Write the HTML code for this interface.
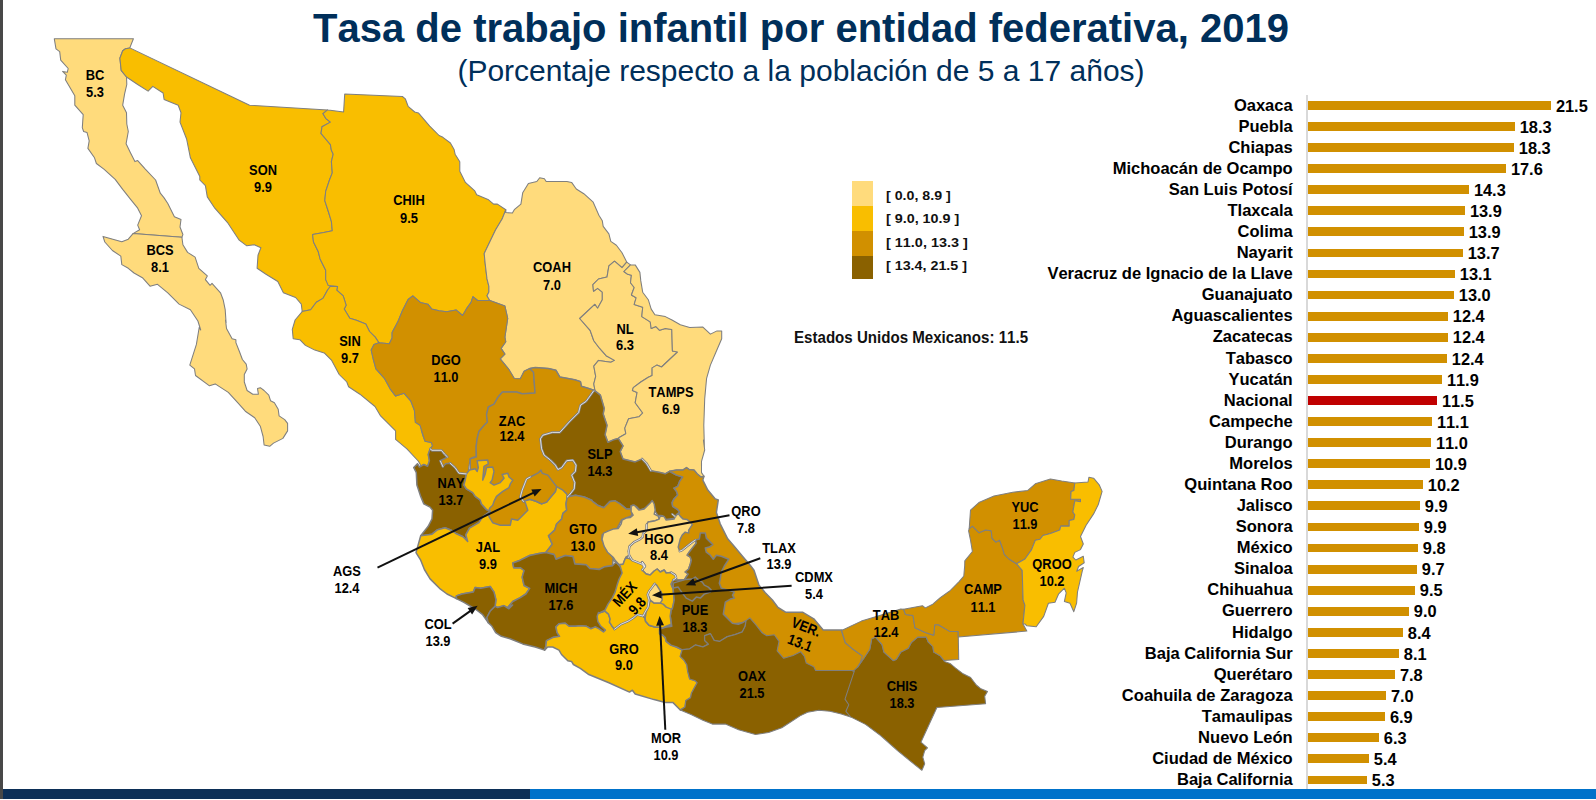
<!DOCTYPE html>
<html><head><meta charset="utf-8"><title>Tasa de trabajo infantil</title>
<style>
html,body{margin:0;padding:0;background:#fff;}
body{width:1596px;height:800px;position:relative;overflow:hidden;font-family:"Liberation Sans",sans-serif;font-kerning:none;}
.abs{position:absolute;}
#title{position:absolute;left:0;top:5px;width:1596px;text-align:center;font-weight:bold;font-size:40px;color:#002f5a;white-space:nowrap;line-height:46px;letter-spacing:0px;}
#title span{display:inline-block;position:relative;left:3px;}
#sub{position:absolute;left:0;top:54.5px;width:1596px;text-align:center;font-size:30px;color:#002f5a;white-space:nowrap;line-height:32px;}
#sub span{display:inline-block;position:relative;left:3px;}
.bl{position:absolute;right:303.3px;height:20px;line-height:20px;font-weight:bold;font-size:16.55px;color:#000;white-space:nowrap;text-align:right;}
.bb{position:absolute;left:1307.8px;height:8.8px;}
.bv{position:absolute;height:20px;line-height:20px;font-weight:bold;font-size:16.4px;color:#000;white-space:nowrap;}
#axis{position:absolute;left:1306.4px;top:95px;width:1.2px;height:695px;background:#d9d9d9;}
#leftbar{position:absolute;left:0;top:0;width:3px;height:799px;background:#484848;}
#foot1{position:absolute;left:3px;top:789px;width:527px;height:10px;background:#0c2f57;}
#foot2{position:absolute;left:530px;top:789px;width:1066px;height:10px;background:#0072ca;}
.lg{position:absolute;left:852px;width:21px;}
.lt{position:absolute;left:886px;font-weight:bold;font-size:13.3px;line-height:16px;height:16px;white-space:nowrap;transform-origin:0 50%;color:#111;}
#eum{position:absolute;left:793.5px;top:328.6px;font-weight:bold;font-size:15.6px;line-height:18px;white-space:nowrap;transform-origin:0 50%;color:#111;transform:scaleX(0.968);}
.ml{position:absolute;font-weight:bold;font-size:14.7px;line-height:16px;height:16px;white-space:nowrap;text-align:center;color:#000;transform:translate(-50%,0) scaleX(0.875);}
.mr{position:absolute;font-weight:bold;font-size:14.7px;line-height:16.5px;white-space:nowrap;text-align:center;color:#000;font-style:normal;}
svg{position:absolute;left:0;top:0;}
</style></head><body>
<div id="title"><span>Tasa de trabajo infantil por entidad federativa, 2019</span></div>
<div id="sub"><span>(Porcentaje respecto a la población de 5 a 17 años)</span></div>
<svg width="1596" height="800" viewBox="0 0 1596 800">
<g stroke="#7f7f7f" stroke-linejoin="round" stroke-linecap="round">
<path d="M54.3,38.8 56.0,48.8 59.7,51.6 60.7,60.1 68.2,68.5 67.3,72.3 62.6,71.4 66.3,75.1 65.4,79.8 68.2,84.5 74.8,95.8 74.8,105.2 83.2,114.6 82.3,127.7 83.6,131.5 87.0,132.4 89.2,140.9 87.9,148.4 94.5,157.8 96.4,163.5 103.9,169.1 115.2,179.4 122.7,189.4 130.2,198.8 137.7,208.2 141.5,215.7 137.7,225.1 139.6,229.8 133.0,233.6 181.9,237.3 182.9,234.5 180.0,227.0 181.0,219.5 174.4,216.7 167.8,203.5 164.1,197.9 160.3,193.2 155.6,180.0 145.3,169.1 137.7,160.6 134.9,161.6 130.2,152.2 126.1,143.7 128.3,131.5 126.8,124.0 126.5,112.7 122.7,105.2 124.6,93.9 126.8,84.5 126.5,77.0 121.2,70.4 119.9,58.2 122.7,50.7 125.5,48.8 129.8,47.9 133.4,38.8Z" fill="#ffdb7c" stroke-width="1.05"/>
<path d="M133.0,233.6 128.3,239.2 121.8,241.7 103.0,236.4 104.8,242.0 112.4,250.5 120.8,256.1 121.8,264.6 128.3,268.3 134.0,273.0 142.4,277.7 150.0,286.2 157.5,284.3 167.8,292.8 179.1,304.1 190.4,309.7 197.9,321.0 200.7,330.0 199.2,327.5 196.4,344.4 189.8,365.1 194.5,368.9 195.5,375.5 209.5,385.8 215.2,383.9 228.3,392.4 237.7,402.7 245.3,411.2 254.7,417.7 260.3,426.2 263.1,436.5 264.1,445.0 269.7,446.3 273.5,443.1 282.9,438.4 287.6,430.9 287.6,423.4 284.7,419.6 279.1,415.9 278.2,409.3 274.4,402.7 270.6,400.8 268.8,395.2 264.1,390.5 260.3,387.7 257.5,388.6 258.4,394.2 252.8,394.2 247.1,390.5 244.3,382.0 244.3,374.5 247.1,368.9 246.2,364.2 242.4,359.5 239.6,352.0 235.9,342.6 235.9,339.7 232.1,338.8 226.5,328.5 225.5,320.0 226.1,322.9 225.2,309.7 223.3,300.3 220.5,292.8 212.0,283.4 210.1,285.3 205.4,279.6 207.3,275.9 198.8,268.3 195.1,257.1 187.6,252.4 182.9,244.8 181.9,237.3Z" fill="#ffdb7c" stroke-width="1.05"/>
<path d="M129.8,47.9 249.6,105.2 327.6,109.9 322.9,113.6 325.7,118.3 330.4,122.1 322.0,126.8 321.0,133.4 325.7,139.0 330.4,144.7 331.4,150.3 333.2,154.1 331.4,161.6 332.3,172.9 329.5,180.0 325.7,191.3 324.8,200.7 328.5,212.0 331.4,221.4 332.3,230.8 323.8,232.6 312.6,234.5 313.5,242.0 318.2,251.4 320.1,258.9 325.7,270.2 325.7,279.6 330.4,286.2 327.6,290.0 322.9,298.4 316.3,302.2 310.7,309.7 302.2,311.6 301.3,304.1 295.6,297.5 283.4,292.8 277.8,281.5 265.6,274.0 257.1,268.3 258.0,255.2 260.9,247.7 254.3,244.8 246.8,245.8 239.2,240.2 228.0,223.2 214.8,208.2 207.3,196.9 205.4,185.6 199.8,180.0 199.8,176.6 190.4,157.8 186.6,139.0 180.0,122.1 181.0,112.7 178.2,105.2 164.1,99.5 163.1,93.0 152.8,86.4 148.1,91.1 137.7,84.5 126.5,77.0 121.2,70.4 119.9,58.2 122.7,50.7 125.5,48.8 129.8,47.9Z" fill="#f9be00" stroke-width="1.05"/>
<path d="M328.2,110.1 343.6,112.0 344.7,94.1 402.4,96.5 405.3,98.8 408.1,106.3 414.7,112.0 418.4,112.9 429.7,126.1 439.1,135.5 442.9,137.3 450.4,143.0 454.1,149.5 455.1,154.2 459.8,161.8 459.8,171.2 465.4,182.4 474.8,190.9 476.7,194.7 488.0,199.4 493.6,204.1 497.4,204.1 505.8,209.7 502.1,219.1 495.5,230.0 484.2,253.5 485.2,263.8 487.0,278.9 488.9,286.4 488.9,292.0 487.0,295.8 489.8,300.5 477.6,300.5 472.9,296.7 471.1,302.4 466.4,308.9 462.6,315.5 456.0,309.9 446.6,311.8 439.1,310.8 431.6,308.9 427.8,304.2 420.3,302.4 412.8,295.8 408.1,299.5 402.4,310.8 397.7,322.1 392.1,332.4 392.1,338.1 389.3,343.7 378.9,342.8 375.2,337.1 369.5,331.5 365.8,324.0 356.4,320.2 349.8,318.3 344.2,308.9 346.1,305.2 343.2,295.8 336.7,290.2 337.6,286.4 328.2,285.5 325.7,279.6 325.7,270.2 320.1,258.9 318.2,251.4 313.5,242.0 312.6,234.5 323.8,232.6 332.3,230.8 331.4,221.4 328.5,212.0 324.8,200.7 325.7,191.3 329.5,180.0 332.3,172.9 331.4,161.6 333.2,154.1 331.4,150.3 330.4,144.7 325.7,139.0 321.0,133.4 322.0,126.8 330.4,122.1 325.7,118.3 322.9,113.6 327.6,109.9Z" fill="#f9be00" stroke-width="1.05"/>
<path d="M302.2,311.6 310.7,309.7 316.3,302.2 322.9,298.4 327.6,290.0 330.4,286.2 337.6,286.4 336.7,290.2 343.2,295.8 346.1,305.2 344.2,308.9 349.8,318.3 356.4,320.2 365.8,324.0 369.5,331.5 375.2,337.1 378.9,342.8 374.0,344.4 371.2,350.1 373.1,358.5 375.9,368.9 384.4,378.3 390.0,388.6 395.6,396.1 404.1,393.3 410.7,400.8 414.4,410.2 415.4,422.4 420.1,425.3 423.8,437.5 421.3,430.0 423.2,436.3 425.1,441.3 431.3,442.5 432.6,445.7 430.1,448.8 428.2,454.4 429.4,460.7 427.6,466.3 423.8,464.5 419.4,467.0 417.5,463.8 413.8,467.6 422.0,467.6 418.2,461.0 406.9,448.8 395.6,439.4 395.6,430.9 380.6,415.9 375.0,406.5 359.9,394.2 348.6,386.7 346.8,382.0 339.2,374.5 331.7,360.4 324.2,352.9 314.8,350.1 305.4,345.4 299.8,339.7 293.2,338.8 292.3,329.4 295.1,320.0Z" fill="#f9be00" stroke-width="1.05"/>
<path d="M505.8,212.5 512.4,213.1 514.3,209.7 520.9,204.1 522.7,192.8 528.4,183.4 536.8,181.5 539.7,177.7 544.4,178.7 546.2,181.5 566.9,181.5 571.6,182.4 576.3,189.0 583.8,193.7 593.2,202.2 598.9,215.3 602.3,220.8 603.2,226.4 608.9,233.9 610.8,241.4 616.4,245.2 622.0,252.7 626.7,262.1 622.0,267.7 614.5,261.2 608.9,265.9 607.0,277.1 598.5,279.0 592.9,284.7 593.5,291.2 597.6,288.4 602.3,292.2 602.3,299.7 597.6,308.2 594.8,304.4 579.7,318.5 590.1,330.3 593.8,340.7 599.5,348.2 606.1,355.7 614.5,360.4 610.8,362.3 598.5,360.4 593.8,366.1 595.7,376.4 593.8,383.9 594.8,389.5 593.6,390.1 588.0,388.2 581.4,386.3 580.5,381.6 574.8,379.7 565.4,377.9 559.8,376.9 556.0,370.3 548.5,368.5 535.3,367.5 529.7,368.5 524.1,371.3 520.3,378.8 514.3,378.5 508.6,369.1 500.2,358.8 504.9,354.1 501.1,348.4 505.8,341.8 504.9,337.1 507.7,318.3 504.9,306.1 489.8,300.5 487.0,295.8 488.9,292.0 488.9,286.4 487.0,278.9 485.2,263.8 484.2,253.5 495.5,230.0 502.1,219.1 505.8,209.7Z" fill="#ffdb7c" stroke-width="1.05"/>
<path d="M378.9,342.8 389.3,343.7 392.1,338.1 392.1,332.4 397.7,322.1 402.4,310.8 408.1,299.5 412.8,295.8 420.3,302.4 427.8,304.2 431.6,308.9 439.1,310.8 446.6,311.8 456.0,309.9 462.6,315.5 466.4,308.9 471.1,302.4 472.9,296.7 477.6,300.5 489.8,300.5 504.9,306.1 507.7,318.3 504.9,337.1 505.8,341.8 501.1,348.4 504.9,354.1 500.2,358.8 508.6,369.1 514.3,378.5 520.3,378.8 524.1,371.3 529.7,368.5 533.5,372.2 535.0,392.9 522.2,393.8 516.5,392.0 502.4,392.0 497.7,397.6 494.0,404.2 488.3,407.0 486.5,414.5 487.4,422.0 484.6,424.8 478.9,431.4 477.1,438.9 476.1,446.5 476.1,457.7 476.4,456.9 473.3,456.9 470.2,458.8 468.9,466.3 468.3,471.4 466.4,473.9 458.9,473.2 455.1,467.6 450.1,463.2 445.7,463.8 442.6,467.0 440.1,460.7 443.9,458.8 447.6,456.9 444.5,454.4 441.4,450.7 432.0,450.7 430.1,448.8 432.6,445.7 431.3,442.5 425.1,441.3 423.2,436.3 421.3,430.0 423.8,437.5 420.1,425.3 415.4,422.4 414.4,410.2 410.7,400.8 404.1,393.3 395.6,396.1 390.0,388.6 384.4,378.3 375.9,368.9 373.1,358.5 371.2,350.1 374.0,344.4 379.7,342.6Z" fill="#d19000" stroke-width="1.05"/>
<path d="M594.8,389.5 593.8,383.9 595.7,376.4 593.8,366.1 598.5,360.4 610.8,362.3 614.5,360.4 606.1,355.7 599.5,348.2 593.8,340.7 590.1,330.3 579.7,318.5 594.8,304.4 597.6,308.2 602.3,299.7 602.3,292.2 597.6,288.4 593.5,291.2 592.9,284.7 598.5,279.0 607.0,277.1 608.9,265.9 614.5,261.2 622.0,267.7 626.7,262.1 630.5,264.9 623.9,271.5 627.7,274.3 631.4,275.3 630.5,282.8 634.2,287.5 631.4,295.0 636.1,297.8 634.2,304.4 642.7,307.2 641.8,316.6 650.2,321.9 651.2,328.5 655.9,326.6 659.6,330.3 665.3,328.5 671.8,329.4 672.4,351.0 677.5,352.0 661.5,367.0 656.8,365.1 652.1,367.9 652.1,375.5 648.3,377.3 640.8,382.0 633.3,387.7 632.4,390.5 637.1,392.4 635.2,402.7 642.7,413.0 638.9,416.8 628.6,418.7 624.8,428.1 625.8,433.7 619.2,437.5 618.3,438.4 614.5,439.4 607.9,442.2 605.1,434.7 607.0,425.3 603.2,414.0 604.2,408.3 600.4,395.2 595.7,391.4Z" fill="#ffdb7c" stroke-width="1.05"/>
<path d="M630.5,264.9 635.2,264.9 639.9,272.4 640.8,280.9 642.7,292.2 648.3,299.7 651.2,309.1 654.9,314.7 665.3,316.6 672.0,320.0 680.3,324.7 689.7,327.5 702.9,327.1 710.4,334.1 717.0,330.9 721.7,330.9 721.7,338.8 716.0,352.0 710.4,365.1 706.6,378.3 704.7,398.9 703.8,425.3 704.4,447.8 703.4,440.0 704.7,450.0 701.5,461.3 701.5,472.6 704.0,476.3 700.9,477.0 697.1,473.8 694.0,470.1 689.0,469.4 686.5,467.6 682.7,470.1 676.5,470.1 669.6,471.3 665.2,473.8 660.2,472.6 650.8,470.7 648.3,466.6 641.8,459.1 635.2,461.9 623.0,459.1 620.2,451.6 623.0,445.9 618.3,438.4 619.2,437.5 625.8,433.7 624.8,428.1 628.6,418.7 638.9,416.8 642.7,413.0 635.2,402.7 637.1,392.4 632.4,390.5 633.3,387.7 640.8,382.0 648.3,377.3 652.1,375.5 652.1,367.9 656.8,365.1 661.5,367.0 677.5,352.0 672.4,351.0 671.8,329.4 665.3,328.5 659.6,330.3 655.9,326.6 651.2,328.5 650.2,321.9 641.8,316.6 642.7,307.2 634.2,304.4 636.1,297.8 631.4,295.0 634.2,287.5 630.5,282.8 631.4,275.3 627.7,274.3 623.9,271.5Z" fill="#ffdb7c" stroke-width="1.05"/>
<path d="M529.7,368.5 535.3,367.5 548.5,368.5 556.0,370.3 559.8,376.9 565.4,377.9 574.8,379.7 580.5,381.6 581.4,386.3 588.0,388.2 593.6,390.1 593.6,391.0 586.1,401.4 580.5,405.1 578.6,412.6 569.2,422.0 559.8,432.4 552.3,432.4 542.9,435.2 540.4,438.8 541.6,448.8 544.1,455.1 550.4,460.1 555.4,465.1 557.9,469.5 561.7,467.6 566.7,460.7 572.9,460.1 576.1,465.1 575.4,471.4 571.7,475.1 574.8,482.6 574.2,488.9 569.2,495.2 567.3,497.0 537.8,510.2 530.3,512.7 524.1,516.5 517.8,522.7 511.5,521.5 510.3,527.1 500.3,527.1 491.5,524.0 486.5,516.5 470.2,482.6 470.2,458.8 476.4,456.9 476.1,446.5 477.1,438.9 478.9,431.4 484.6,424.8 487.4,422.0 486.5,414.5 488.3,407.0 494.0,404.2 497.7,397.6 502.4,392.0 516.5,392.0 522.2,393.8 535.0,392.9 533.5,372.2 529.7,368.5Z" fill="#d19000" stroke-width="1.5"/>
<path d="M413.8,467.6 417.5,463.8 419.4,467.0 423.8,464.5 427.6,466.3 429.4,460.7 428.2,454.4 430.1,448.8 432.0,450.7 441.4,450.7 444.5,454.4 447.6,456.9 443.9,458.8 440.1,460.7 442.6,467.0 445.7,463.8 450.1,463.2 455.1,467.6 458.9,473.2 466.4,473.9 465.2,480.1 463.9,485.1 466.4,488.9 472.7,492.7 475.2,496.4 480.2,500.2 481.5,503.9 486.5,509.6 490.2,511.3 482.7,516.9 478.9,522.6 469.5,528.2 465.8,534.8 467.7,541.4 463.0,536.7 456.4,533.8 451.7,530.5 445.1,527.8 437.6,529.7 432.0,534.2 420.7,535.7 428.2,526.3 432.0,518.8 432.6,510.2 430.1,507.1 423.8,503.9 420.7,496.4 416.9,485.1 416.3,472.6 413.8,467.6Z" fill="#8a6100" stroke-width="1.5"/>
<path d="M567.3,497.0 569.2,495.2 574.2,488.9 574.8,482.6 571.7,475.1 575.4,471.4 576.1,465.1 572.9,460.1 566.7,460.7 561.7,467.6 557.9,469.5 555.4,465.1 550.4,460.1 544.1,455.1 541.6,448.8 540.4,438.8 542.9,435.2 552.3,432.4 559.8,432.4 569.2,422.0 578.6,412.6 580.5,405.1 586.1,401.4 593.6,391.0 595.7,391.4 600.4,395.2 604.2,408.3 603.2,414.0 607.0,425.3 605.1,434.7 607.9,442.2 614.5,439.4 618.3,438.4 623.0,445.9 620.2,451.6 623.0,459.1 635.2,461.9 641.8,459.1 648.3,466.6 650.8,470.7 660.2,472.6 665.2,473.8 669.6,471.3 676.5,475.1 682.7,477.0 679.6,481.4 677.7,486.4 674.0,488.2 676.5,491.4 677.7,495.1 674.0,498.9 672.1,502.7 672.7,506.4 677.7,509.5 679.6,512.1 676.5,514.6 675.2,518.3 670.2,518.9 665.2,519.6 662.7,515.8 657.7,515.2 655.2,511.4 653.9,506.4 652.7,501.4 648.9,505.2 645.1,508.3 640.1,510.2 636.4,506.4 632.6,505.2 630.7,508.9 626.3,508.9 620.1,503.9 615.1,500.8 610.1,501.4 603.8,507.7 597.5,505.2 592.5,501.4 591.7,500.2 584.2,497.0 575.4,495.2 567.3,497.0Z" fill="#8a6100" stroke-width="1.5"/>
<path d="M420.7,535.7 432.0,534.2 437.6,529.7 445.1,527.8 451.7,530.5 456.4,533.8 463.0,536.7 467.7,541.4 465.8,534.8 469.5,528.2 478.9,522.6 482.7,516.9 490.2,511.3 486.5,509.6 481.5,503.9 480.2,500.2 475.2,496.4 472.7,492.7 466.4,488.9 463.9,485.1 465.2,480.1 466.4,473.9 469.5,470.1 475.2,468.8 477.1,471.4 478.3,467.6 477.1,460.7 487.7,460.1 488.3,463.8 484.0,466.3 482.7,480.1 485.2,473.9 486.5,467.6 492.7,467.0 494.0,471.4 492.1,480.1 490.2,482.6 494.0,485.1 500.3,482.6 504.0,478.2 502.1,474.5 507.8,473.2 509.0,477.0 512.8,480.1 510.3,483.9 509.0,487.6 502.8,491.4 496.5,496.4 494.0,501.4 492.7,505.2 489.6,508.3 489.2,511.5 489.0,516.5 492.7,522.7 500.3,525.2 510.3,525.2 511.5,519.0 517.8,520.2 524.1,514.0 527.8,510.2 525.3,502.7 523.4,501.4 529.7,499.2 536.0,501.2 541.6,503.9 546.6,502.1 549.7,498.3 555.4,491.4 556.6,486.6 562.9,490.2 566.7,493.9 567.3,497.0 566.0,503.9 566.7,510.2 562.9,513.3 561.7,519.0 556.6,524.0 554.7,530.1 548.5,535.7 552.3,544.2 545.7,552.6 539.1,553.6 529.7,555.5 520.3,560.2 512.8,563.0 513.7,567.7 520.3,567.7 524.1,570.5 522.2,577.1 524.1,585.5 529.7,588.3 525.9,594.0 520.3,597.7 512.8,601.5 508.1,607.1 512.6,605.0 508.9,608.8 503.9,605.6 497.6,607.5 495.1,606.3 495.9,599.6 494.0,592.1 490.2,586.5 480.8,588.3 475.2,587.4 473.3,592.1 462.0,594.0 456.4,595.9 456.4,598.7 447.0,594.0 439.5,588.3 430.1,578.9 424.4,569.5 420.7,560.2 416.0,552.6 420.7,535.7Z" fill="#f9be00" stroke-width="1.5"/>
<path d="M556.6,486.6 551.6,480.1 547.9,475.1 542.2,473.2 541.0,470.1 537.8,473.2 530.3,477.0 526.6,478.9 522.2,490.2 520.3,497.0 523.4,501.4 529.7,499.2 536.0,501.2 541.6,503.9 546.6,502.1 549.7,498.3 555.4,491.4 556.6,486.6Z" fill="#d19000" stroke-width="1.5"/>
<path d="M456.4,598.7 456.4,595.9 462.0,594.0 473.3,592.1 475.2,587.4 480.8,588.3 490.2,586.5 494.0,592.1 495.9,599.6 495.1,606.3 490.1,611.3 486.9,617.5 488.2,622.6 482.7,614.7 475.2,609.0 463.9,602.4 456.4,598.7Z" fill="#8a6100" stroke-width="1.5"/>
<path d="M567.3,497.0 575.4,495.2 584.2,497.0 591.7,500.2 592.5,501.4 597.5,505.2 603.8,507.7 610.1,501.4 615.1,500.8 620.1,503.9 626.3,508.9 630.7,508.9 631.2,505.6 634.0,507.5 631.2,516.0 621.8,519.7 616.2,530.1 608.6,531.0 602.1,534.8 602.1,540.4 606.8,545.1 610.5,554.5 613.3,558.3 612.4,565.8 604.9,566.7 599.2,569.5 589.8,568.6 586.1,564.8 574.8,563.9 572.9,556.4 565.4,555.5 556.0,559.2 554.1,554.5 545.7,552.6 552.3,544.2 548.5,535.7 554.7,530.1 556.6,524.0 561.7,519.0 562.9,513.3 566.7,510.2 566.0,503.9 567.3,497.0Z" fill="#d19000" stroke-width="1.5"/>
<path d="M495.1,606.3 497.6,607.5 503.9,605.6 508.9,608.8 512.6,605.0 508.1,607.1 512.8,601.5 520.3,597.7 525.9,594.0 529.7,588.3 524.1,585.5 522.2,577.1 524.1,570.5 520.3,567.7 513.7,567.7 512.8,563.0 520.3,560.2 529.7,555.5 539.1,553.6 545.7,552.6 554.1,554.5 556.0,559.2 565.4,555.5 572.9,556.4 574.8,563.9 586.1,564.8 589.8,568.6 599.2,569.5 604.9,566.7 612.4,565.8 616.2,562.0 624.9,572.4 624.0,577.1 621.2,580.8 619.3,588.3 615.5,595.9 611.8,605.3 607.1,610.9 602.4,613.7 603.3,620.3 603.5,612.5 602.2,616.3 602.8,621.3 605.4,625.7 605.4,630.1 603.5,632.0 599.1,628.8 595.3,626.9 591.0,628.8 586.6,626.3 580.3,625.7 575.3,626.3 569.0,626.3 565.3,623.2 559.0,623.8 555.9,626.9 557.1,632.6 559.6,636.3 552.7,637.6 546.5,640.7 545.8,646.4 544.6,650.1 535.2,647.0 522.7,643.9 510.1,638.8 501.4,636.3 495.7,632.6 492.0,626.3 488.2,622.6 486.9,617.5 490.1,611.3 495.1,606.3Z" fill="#8a6100" stroke-width="1.5"/>
<path d="M679.6,512.1 677.7,509.5 672.7,506.4 672.1,502.7 674.0,498.9 677.7,495.1 676.5,491.4 674.0,488.2 677.7,486.4 679.6,481.4 682.7,477.0 676.5,475.1 669.6,471.3 676.5,470.1 682.7,470.1 686.5,467.6 689.0,469.4 694.0,470.1 697.1,473.8 700.9,477.0 704.0,476.3 702.8,480.1 707.8,490.1 715.3,498.9 718.3,500.0 716.4,512.5 720.2,523.8 725.2,533.8 727.7,538.8 735.2,547.6 742.7,556.4 750.2,565.2 754.0,570.2 759.0,585.2 765.3,592.7 772.4,600.0 778.0,607.5 785.6,612.2 802.5,612.2 813.8,618.8 823.2,630.1 842.0,630.1 841.6,630.5 845.4,642.7 852.0,648.3 865.1,657.7 863.2,672.8 838.8,676.5 815.6,675.2 804.4,665.8 795.0,656.4 783.7,662.0 774.3,650.8 776.2,640.4 766.8,637.6 755.5,626.3 744.2,622.6 729.2,624.4 710.4,611.3 680.2,585.1 675.2,560.0 678.2,550.2 675.2,520.1Z" fill="#d19000" stroke-width="1.5"/>
<path d="M631.1,506.0 634.1,505.0 639.1,510.1 644.1,509.0 647.1,506.0 650.2,503.0 652.2,500.5 654.2,504.0 655.2,510.1 654.2,514.1 658.2,516.1 659.2,519.1 654.2,521.1 648.1,522.1 646.6,524.6 646.6,530.1 643.1,533.6 642.6,537.1 640.1,539.1 634.1,542.1 629.6,546.1 628.6,551.2 629.1,555.2 626.1,557.2 624.6,560.2 623.1,564.2 619.1,564.7 615.1,560.2 613.1,557.2 607.5,552.2 604.0,546.1 602.0,539.1 603.5,533.1 608.0,531.1 613.1,529.1 618.1,528.6 621.1,524.1 622.1,520.1 626.1,518.1 630.1,517.6 633.1,515.1 631.1,511.6Z" fill="#ffdb7c" stroke-width="1.5"/>
<path d="M659.2,519.1 660.2,516.1 664.2,516.6 666.2,520.1 670.2,519.6 674.2,519.1 675.2,516.1 678.2,513.6 680.2,516.1 683.2,519.1 687.2,519.6 690.3,522.1 692.3,524.6 688.7,530.1 688.7,533.1 685.2,532.1 682.2,535.1 680.2,539.1 678.2,547.1 679.7,551.2 682.2,550.2 687.2,546.1 692.3,542.1 695.3,540.1 696.3,543.1 692.3,548.1 689.2,552.2 687.2,555.2 690.3,557.2 691.3,560.2 690.3,564.2 689.2,570.0 691.3,560.0 690.3,564.0 688.7,569.0 685.2,572.0 688.2,574.0 686.2,577.0 684.2,580.1 677.2,580.1 676.2,578.0 675.2,575.0 671.2,572.5 666.2,573.0 664.2,570.0 660.2,572.0 657.2,569.0 654.2,571.0 650.2,575.0 646.1,574.0 642.1,570.0 645.1,566.0 642.1,562.0 644.6,567.2 642.1,564.2 637.1,562.2 632.1,560.2 629.1,555.2 628.6,551.2 629.6,546.1 634.1,542.1 640.1,539.1 642.6,537.1 643.1,533.6 646.6,530.1 646.6,524.6 648.1,522.1 654.2,521.1Z" fill="#ffdb7c" stroke-width="1.5"/>
<path d="M544.6,650.1 545.8,646.4 546.5,640.7 552.7,637.6 559.6,636.3 557.1,632.6 555.9,626.9 559.0,623.8 565.3,623.2 569.0,626.3 575.3,626.3 580.3,625.7 586.6,626.3 591.0,628.8 595.3,626.9 599.1,628.8 603.5,632.0 605.4,630.1 600.4,625.7 597.8,621.3 597.2,616.3 598.5,612.5 599.0,613.1 605.0,611.1 608.5,614.1 610.1,619.1 609.5,622.2 612.1,626.2 614.6,629.2 621.1,624.2 628.1,621.2 633.1,618.1 637.1,614.6 643.1,616.1 645.1,618.1 645.6,621.2 649.1,625.2 654.2,626.7 659.2,627.2 662.2,628.2 666.2,626.2 671.2,624.2 671.8,626.3 665.3,627.3 659.6,629.1 659.6,633.8 662.4,634.8 665.3,637.6 666.2,641.4 670.9,645.1 676.5,647.0 682.2,649.8 680.3,656.4 684.1,660.2 686.9,664.8 687.8,671.4 689.7,678.9 695.3,680.8 697.2,682.7 691.6,693.0 690.6,697.7 685.9,700.6 685.0,707.1 680.3,710.0 672.8,702.4 665.3,702.4 654.0,699.6 635.2,694.0 632.4,690.2 629.5,692.1 608.9,682.7 588.2,674.2 580.3,668.3 573.4,664.5 571.5,661.4 567.8,660.8 561.5,654.5 559.0,650.1 552.7,647.0 547.7,647.0 544.6,650.1Z" fill="#f9be00" stroke-width="1.5"/>
<path d="M619.1,564.7 623.1,564.2 624.6,560.2 626.1,557.2 632.1,560.2 637.1,562.2 642.1,564.2 644.6,567.2 642.1,562.0 645.1,566.0 642.1,570.0 646.1,574.0 650.2,575.0 654.2,571.0 657.2,569.0 660.2,572.0 664.2,570.0 666.2,573.0 671.2,572.5 675.2,575.0 676.2,578.0 673.2,580.1 671.2,584.1 673.2,589.1 673.7,595.1 674.2,600.1 673.2,605.1 672.2,609.1 670.2,616.1 671.2,624.2 666.2,626.2 662.2,628.2 659.2,627.2 654.2,626.7 649.1,625.2 645.6,621.2 645.1,618.1 643.1,616.1 637.1,614.6 633.1,618.1 628.1,621.2 621.1,624.2 614.6,629.2 612.1,626.2 609.5,622.2 610.1,619.1 608.5,614.1 605.0,611.1 599.0,613.1 605.0,610.1 608.0,604.1 612.1,598.1 615.1,592.1 617.1,585.1 619.1,579.0 622.1,573.0 620.1,566.0 613.1,560.0Z" fill="#f9be00" stroke-width="1.5"/>
<path d="M695.3,540.1 699.3,539.1 700.3,533.1 705.3,533.1 706.3,538.1 710.3,542.1 712.8,544.6 709.3,547.1 705.3,548.1 706.3,552.2 710.3,555.2 713.3,559.2 716.3,555.2 721.3,556.2 728.8,559.2 724.3,566.0 721.3,572.0 720.3,579.0 719.3,583.1 721.3,588.1 728.3,590.1 734.4,592.1 732.4,595.1 734.4,598.1 730.4,599.1 725.3,602.1 724.3,608.1 723.3,614.1 726.3,617.1 729.3,620.2 732.4,623.2 738.4,624.2 743.4,622.2 746.1,620.7 745.2,626.3 742.3,632.0 734.8,634.8 727.3,636.7 719.8,641.4 714.1,640.4 710.4,633.8 704.7,635.7 704.7,640.4 708.5,644.2 702.9,647.0 695.3,645.1 689.7,648.9 682.2,649.8 676.5,647.0 670.9,645.1 666.2,641.4 665.3,637.6 662.4,634.8 659.6,633.8 659.6,629.1 665.3,627.3 671.8,626.3 670.2,616.1 671.2,609.1 672.2,609.1 673.2,605.1 674.2,600.1 673.7,595.1 673.2,589.1 671.2,584.1 673.2,580.1 677.2,580.1 684.2,580.1 686.2,577.0 688.2,574.0 685.2,572.0 688.7,569.0 690.3,564.0 691.3,560.0 690.3,564.2 691.3,560.2 690.3,557.2 687.2,555.2 689.2,552.2 692.3,548.1 696.3,543.1Z" fill="#8a6100" stroke-width="1.5"/>
<path d="M680.3,710.0 685.0,707.1 685.9,700.6 690.6,697.7 691.6,693.0 697.2,682.7 695.3,680.8 689.7,678.9 687.8,671.4 686.9,664.8 684.1,660.2 680.3,656.4 682.2,649.8 689.7,648.9 695.3,645.1 702.9,647.0 708.5,644.2 704.7,640.4 704.7,635.7 710.4,633.8 714.1,640.4 719.8,641.4 727.3,636.7 734.8,634.8 742.3,632.0 745.2,626.3 746.1,620.7 749.8,617.9 755.5,624.4 762.1,632.9 766.8,635.7 774.3,634.8 779.0,641.4 777.1,650.8 783.7,658.3 793.1,655.5 800.6,651.7 804.4,656.4 806.2,663.0 813.8,666.7 815.6,670.5 852.3,670.5 861.4,670.9 852.0,699.1 855.8,704.7 852.9,711.3 850.6,716.9 841.3,714.1 830.0,711.3 818.8,710.3 807.5,712.2 800.0,715.9 781.8,727.8 768.6,732.5 755.5,734.4 738.6,729.7 725.4,724.1 712.3,724.1 702.9,720.3 691.6,714.7 680.3,710.0Z" fill="#8a6100" stroke-width="1.05"/>
<path d="M673.2,588.1 678.2,587.1 680.2,590.1 683.2,594.1 686.2,598.1 692.3,601.1 696.3,597.1 700.3,598.1 704.3,594.1 710.3,592.1 711.3,590.1 708.3,587.1 704.3,585.1 702.3,582.1 697.3,579.0 695.3,577.0 692.3,579.0 685.2,579.5 678.2,581.6 673.2,583.1Z" fill="#8a6100" stroke-width="1.5"/>
<path d="M645.1,618.1 646.1,612.1 649.1,605.1 650.2,600.1 654.2,603.1 660.2,603.1 663.2,604.1 666.2,607.1 671.2,609.1 670.2,616.1 671.2,624.2 666.2,626.2 662.2,628.2 659.2,627.2 654.2,626.7 649.1,625.2 645.6,621.2Z" fill="#f9be00" stroke-width="1.5"/>
<path d="M647.6,594.6 649.1,591.1 652.2,587.1 654.7,583.6 656.7,585.1 659.2,589.1 661.7,593.1 662.2,600.1 660.2,603.1 654.2,603.1 650.2,600.1 649.1,597.1Z" fill="#ffdb7c" stroke-width="1.5"/>
<path d="M850.6,716.9 845.9,711.3 848.8,704.7 845.0,699.1 854.4,670.9 852.9,671.3 857.6,667.1 864.2,657.7 869.8,649.3 871.7,638.9 875.5,637.1 882.0,644.6 883.9,652.1 893.3,660.6 896.1,659.6 900.8,652.1 908.3,648.3 911.2,642.7 917.7,637.1 926.2,637.1 928.1,641.8 932.8,646.5 933.7,652.1 940.3,655.9 944.1,660.6 944.4,661.6 950.0,663.4 955.6,668.1 963.1,673.8 970.6,677.5 976.3,685.0 980.9,688.8 987.5,691.6 984.7,696.3 985.6,703.8 936.9,707.5 920.9,742.2 927.5,747.8 924.7,750.6 922.8,757.2 924.7,763.8 921.9,770.3 912.5,762.8 897.5,750.6 880.6,735.6 865.6,724.4 850.6,716.9Z" fill="#8a6100" stroke-width="1.05"/>
<path d="M841.6,630.5 861.4,621.1 876.4,616.4 900.8,608.9 903.6,609.2 905.5,614.5 913.0,615.5 914.9,627.7 925.3,632.4 933.7,635.2 934.7,624.8 938.4,624.8 949.7,631.4 958.2,631.4 958.7,659.6 944.1,660.6 940.3,655.9 933.7,652.1 932.8,646.5 928.1,641.8 926.2,637.1 917.7,637.1 911.2,642.7 908.3,648.3 900.8,652.1 896.1,659.6 893.3,660.6 883.9,652.1 882.0,644.6 875.5,637.1 871.7,638.9 869.8,649.3 864.2,657.7 857.6,667.1 860.4,662.4 862.3,655.9 852.0,648.3 845.4,642.7 841.6,630.5Z" fill="#d19000" stroke-width="1.05"/>
<path d="M903.6,609.2 922.4,605.7 925.3,607.9 932.8,604.2 940.3,597.6 949.7,591.0 959.1,581.6 963.8,576.0 964.7,565.6 964.8,560.9 972.4,551.5 970.5,540.2 968.6,530.8 969.2,528.6 972.4,526.1 978.9,532.7 985.5,529.9 991.2,530.8 992.1,538.3 995.9,542.1 999.6,540.2 1002.4,547.7 1004.3,554.3 1009.0,559.0 1016.5,563.7 1022.2,570.3 1023.1,600.0 1024.9,605.1 1023.0,623.9 1026.8,631.1 958.2,637.1 958.2,631.4 949.7,631.4 938.4,624.8 934.7,624.8 933.7,635.2 925.3,632.4 914.9,627.7 913.0,615.5 905.5,614.5 903.6,609.2Z" fill="#d19000" stroke-width="1.05"/>
<path d="M969.2,528.6 970.5,510.2 978.9,502.6 994.0,496.1 1012.8,492.3 1027.8,490.4 1035.3,483.8 1050.4,479.1 1061.7,481.0 1074.8,482.9 1073.9,490.4 1071.1,491.4 1070.7,499.2 1080.5,499.2 1080.5,501.7 1074.8,500.8 1072.9,512.0 1074.8,514.8 1073.9,519.5 1069.2,520.5 1069.2,526.1 1060.7,526.1 1059.8,529.9 1050.4,533.6 1042.9,535.5 1040.0,539.3 1035.3,540.2 1031.6,549.6 1025.0,559.0 1016.5,563.7 1009.0,559.0 1004.3,554.3 1002.4,547.7 999.6,540.2 995.9,542.1 992.1,538.3 991.2,530.8 985.5,529.9 978.9,532.7 972.4,526.1 969.2,528.6Z" fill="#d19000" stroke-width="1.05"/>
<path d="M1074.8,482.9 1088.0,482.0 1088.9,477.3 1093.6,478.2 1099.2,484.8 1102.1,491.4 1098.3,504.5 1093.6,513.9 1086.1,525.2 1080.5,536.5 1083.3,544.0 1080.5,549.6 1074.8,552.4 1072.9,557.1 1075.8,560.0 1083.3,556.2 1084.2,562.8 1078.6,566.5 1076.7,571.2 1083.3,567.5 1082.2,571.3 1077.5,592.0 1076.6,603.2 1073.8,611.7 1070.0,603.2 1064.4,601.4 1066.2,592.9 1064.4,588.2 1058.7,593.8 1055.0,602.3 1048.4,603.2 1043.7,616.4 1036.2,626.7 1026.8,625.8 1024.9,623.9 1023.0,623.9 1024.9,605.1 1023.1,600.0 1022.2,570.3 1016.5,563.7 1025.0,559.0 1031.6,549.6 1035.3,540.2 1040.0,539.3 1042.9,535.5 1050.4,533.6 1059.8,529.9 1060.7,526.1 1069.2,526.1 1069.2,520.5 1073.9,519.5 1074.8,514.8 1072.9,512.0 1074.8,500.8 1080.5,501.7 1080.5,499.2 1070.7,499.2 1071.1,491.4 1073.9,490.4 1074.8,482.9Z" fill="#f9be00" stroke-width="1.05"/>
<path d="M593.6,391.0 586.1,401.4 580.5,405.1 578.6,412.6 569.2,422.0 559.8,432.4 552.3,432.4 542.9,435.2 540.4,438.8 541.6,448.8 544.1,455.1 550.4,460.1 555.4,465.1 557.9,469.5 561.7,467.6 566.7,460.7 572.9,460.1 576.1,465.1 575.4,471.4 571.7,475.1 574.8,482.6 574.2,488.9 569.2,495.2 567.3,497.0" fill="none" stroke-width="2.3"/>
<path d="M523.4,501.4 520.3,497.0 522.2,490.2 526.6,478.9 530.3,477.0" fill="none" stroke-width="2.3"/>
<path d="M646.6,524.6 646.6,530.1 643.1,533.6 642.6,537.1 640.1,539.1 634.1,542.1 629.6,546.1 628.6,551.2 629.1,555.2 632.1,560.2 637.1,562.2 642.1,564.2 644.6,567.2 642.1,562.0 645.1,566.0 642.1,570.0" fill="none" stroke-width="2.3"/>
<path d="M671.2,572.5 675.2,575.0 676.2,578.0 673.2,580.1" fill="none" stroke-width="2.3"/>
<path d="M614.6,629.2 621.1,624.2 628.1,621.2 633.1,618.1 637.1,614.6 643.1,616.1 645.1,612.1 648.1,607.1 649.1,600.1 647.6,594.6 649.1,591.1 652.2,587.1 654.7,583.6" fill="none" stroke-width="2.3"/>
<path d="M679.7,551.2 682.2,550.2 687.2,546.1 692.3,542.1 695.3,540.1" fill="none" stroke-width="2.3"/>
<path d="M430.1,448.8 432.0,450.3 441.4,450.3 444.5,454.1 447.4,456.9" fill="none" stroke-width="2.3"/>
<path d="M440.4,461.1 442.9,466.6" fill="none" stroke-width="2.3"/>
<path d="M450.1,463.2 455.1,467.6 458.9,473.2 466.2,473.9" fill="none" stroke-width="2.3"/>
<path d="M642.0,458.8 646.4,463.2 650.8,470.7" fill="none" stroke-width="2.3"/>
<path d="M672.2,514.1 675.2,516.6" fill="none" stroke-width="2.3"/>
<path d="M593.6,391.0 586.1,401.4 580.5,405.1 578.6,412.6 569.2,422.0 559.8,432.4 552.3,432.4 542.9,435.2 540.4,438.8 541.6,448.8 544.1,455.1 550.4,460.1 555.4,465.1 557.9,469.5 561.7,467.6 566.7,460.7 572.9,460.1 576.1,465.1 575.4,471.4 571.7,475.1 574.8,482.6 574.2,488.9 569.2,495.2 567.3,497.0" fill="none" stroke="#fff" stroke-width="0.75"/>
<path d="M523.4,501.4 520.3,497.0 522.2,490.2 526.6,478.9 530.3,477.0" fill="none" stroke="#fff" stroke-width="0.75"/>
<path d="M646.6,524.6 646.6,530.1 643.1,533.6 642.6,537.1 640.1,539.1 634.1,542.1 629.6,546.1 628.6,551.2 629.1,555.2 632.1,560.2 637.1,562.2 642.1,564.2 644.6,567.2 642.1,562.0 645.1,566.0 642.1,570.0" fill="none" stroke="#fff" stroke-width="0.75"/>
<path d="M671.2,572.5 675.2,575.0 676.2,578.0 673.2,580.1" fill="none" stroke="#fff" stroke-width="0.75"/>
<path d="M614.6,629.2 621.1,624.2 628.1,621.2 633.1,618.1 637.1,614.6 643.1,616.1 645.1,612.1 648.1,607.1 649.1,600.1 647.6,594.6 649.1,591.1 652.2,587.1 654.7,583.6" fill="none" stroke="#fff" stroke-width="0.75"/>
<path d="M679.7,551.2 682.2,550.2 687.2,546.1 692.3,542.1 695.3,540.1" fill="none" stroke="#fff" stroke-width="0.75"/>
<path d="M430.1,448.8 432.0,450.3 441.4,450.3 444.5,454.1 447.4,456.9" fill="none" stroke="#fff" stroke-width="0.75"/>
<path d="M440.4,461.1 442.9,466.6" fill="none" stroke="#fff" stroke-width="0.75"/>
<path d="M450.1,463.2 455.1,467.6 458.9,473.2 466.2,473.9" fill="none" stroke="#fff" stroke-width="0.75"/>
<path d="M642.0,458.8 646.4,463.2 650.8,470.7" fill="none" stroke="#fff" stroke-width="0.75"/>
<path d="M672.2,514.1 675.2,516.6" fill="none" stroke="#fff" stroke-width="0.75"/>
</g>
<g stroke="#111" stroke-width="2" fill="#111">
<line x1="377.5" y1="567.6" x2="534.8" y2="492.1"/>
<path stroke="none" d="M541.6,488.9 L534.7,496.5 L531.3,489.5Z"/>
<line x1="452.6" y1="623.6" x2="471.5" y2="610.1"/>
<path stroke="none" d="M477.6,605.7 L472.1,614.4 L467.6,608.1Z"/>
<line x1="665.3" y1="729.7" x2="660.0" y2="623.5"/>
<path stroke="none" d="M659.6,616.0 L664.0,625.3 L656.2,625.7Z"/>
<line x1="729.5" y1="515.3" x2="635.6" y2="532.5"/>
<path stroke="none" d="M628.2,533.8 L636.8,528.3 L638.2,535.9Z"/>
<line x1="760.3" y1="558.3" x2="692.8" y2="582.7"/>
<path stroke="none" d="M685.7,585.2 L693.3,578.3 L696.0,585.6Z"/>
<line x1="791.6" y1="585.8" x2="659.5" y2="594.7"/>
<path stroke="none" d="M652.0,595.2 L661.2,590.7 L661.7,598.5Z"/>
</g>
</svg>
<div class="ml" style="left:95.2px;top:66.8px">BC</div>
<div class="ml" style="left:95.2px;top:83.9px">5.3</div>
<div class="ml" style="left:263.0px;top:161.6px">SON</div>
<div class="ml" style="left:263.0px;top:178.6px">9.9</div>
<div class="ml" style="left:159.6px;top:241.5px">BCS</div>
<div class="ml" style="left:159.6px;top:258.6px">8.1</div>
<div class="ml" style="left:408.7px;top:192.3px">CHIH</div>
<div class="ml" style="left:408.7px;top:209.8px">9.5</div>
<div class="ml" style="left:551.6px;top:259.2px">COAH</div>
<div class="ml" style="left:551.6px;top:276.7px">7.0</div>
<div class="ml" style="left:350.4px;top:333.4px">SIN</div>
<div class="ml" style="left:350.4px;top:350.4px">9.7</div>
<div class="ml" style="left:445.7px;top:351.7px">DGO</div>
<div class="ml" style="left:445.7px;top:368.7px">11.0</div>
<div class="ml" style="left:625.1px;top:320.6px">NL</div>
<div class="ml" style="left:625.1px;top:337.0px">6.3</div>
<div class="ml" style="left:670.7px;top:383.6px">TAMPS</div>
<div class="ml" style="left:670.7px;top:400.5px">6.9</div>
<div class="ml" style="left:511.8px;top:413.3px">ZAC</div>
<div class="ml" style="left:511.8px;top:427.7px">12.4</div>
<div class="ml" style="left:599.7px;top:445.6px">SLP</div>
<div class="ml" style="left:599.7px;top:462.5px">14.3</div>
<div class="ml" style="left:450.8px;top:474.7px">NAY</div>
<div class="ml" style="left:450.8px;top:491.6px">13.7</div>
<div class="ml" style="left:487.9px;top:538.6px">JAL</div>
<div class="ml" style="left:487.9px;top:555.5px">9.9</div>
<div class="ml" style="left:582.8px;top:520.7px">GTO</div>
<div class="ml" style="left:582.8px;top:537.7px">13.0</div>
<div class="ml" style="left:560.5px;top:580.3px">MICH</div>
<div class="ml" style="left:560.5px;top:597.4px">17.6</div>
<div class="ml" style="left:437.7px;top:615.5px">COL</div>
<div class="ml" style="left:437.7px;top:632.5px">13.9</div>
<div class="ml" style="left:659.4px;top:531.1px">HGO</div>
<div class="ml" style="left:659.4px;top:547.4px">8.4</div>
<div class="ml" style="left:695.3px;top:601.6px">PUE</div>
<div class="ml" style="left:695.3px;top:618.5px">18.3</div>
<div class="ml" style="left:624.4px;top:640.5px">GRO</div>
<div class="ml" style="left:624.4px;top:657.4px">9.0</div>
<div class="ml" style="left:751.7px;top:667.7px">OAX</div>
<div class="ml" style="left:751.7px;top:684.6px">21.5</div>
<div class="ml" style="left:666.4px;top:729.8px">MOR</div>
<div class="ml" style="left:666.4px;top:746.9px">10.9</div>
<div class="ml" style="left:886.3px;top:606.7px">TAB</div>
<div class="ml" style="left:886.3px;top:623.6px">12.4</div>
<div class="ml" style="left:982.6px;top:581.3px">CAMP</div>
<div class="ml" style="left:982.6px;top:598.6px">11.1</div>
<div class="ml" style="left:902.2px;top:677.5px">CHIS</div>
<div class="ml" style="left:902.2px;top:694.5px">18.3</div>
<div class="ml" style="left:1052.1px;top:556.3px">QROO</div>
<div class="ml" style="left:1052.1px;top:573.2px">10.2</div>
<div class="ml" style="left:1024.9px;top:498.6px">YUC</div>
<div class="ml" style="left:1024.9px;top:515.5px">11.9</div>
<div class="ml" style="left:745.8px;top:502.6px">QRO</div>
<div class="ml" style="left:745.8px;top:519.5px">7.8</div>
<div class="ml" style="left:778.7px;top:539.5px">TLAX</div>
<div class="ml" style="left:778.7px;top:556.4px">13.9</div>
<div class="ml" style="left:814.1px;top:569.2px">CDMX</div>
<div class="ml" style="left:814.1px;top:585.9px">5.4</div>
<div class="ml" style="left:347.2px;top:562.5px">AGS</div>
<div class="ml" style="left:347.2px;top:579.5px">12.4</div>
<div class="mr" style="left:630.5px;top:599.5px;transform:translate(-50%,-50%) rotate(-47deg) scaleX(0.875)">MÉX<br>9.8</div>
<div class="mr" style="left:802.6px;top:634.5px;transform:translate(-50%,-50%) rotate(21deg) scaleX(0.875)">VER.<br>13.1</div>
<div class="lg" style="top:181px;height:25px;background:#ffdb7c"></div>
<div class="lg" style="top:206px;height:25px;background:#f9be00"></div>
<div class="lg" style="top:231px;height:25px;background:#d19000"></div>
<div class="lg" style="top:256px;height:23px;background:#8a6100"></div>
<div class="lt" id="lt1" style="top:187.5px;transform:scaleX(1.068)">[ 0.0, 8.9 ]</div>
<div class="lt" id="lt2" style="top:211px;transform:scaleX(1.077)">[ 9.0, 10.9 ]</div>
<div class="lt" id="lt3" style="top:234.7px;transform:scaleX(1.085)">[ 11.0, 13.3 ]</div>
<div class="lt" id="lt4" style="top:257.5px;transform:scaleX(1.074)">[ 13.4, 21.5 ]</div>
<div id="eum">Estados Unidos Mexicanos: 11.5</div>
<div id="axis"></div>
<div class="bl" style="top:95.55px">Oaxaca</div><div class="bb" style="top:100.95px;width:243.2px;background:#d19000"></div><div class="bv" style="top:95.55px;left:1555.9px">21.5</div>
<div class="bl" style="top:116.63px">Puebla</div><div class="bb" style="top:122.03px;width:207.0px;background:#d19000"></div><div class="bv" style="top:116.63px;left:1519.7px">18.3</div>
<div class="bl" style="top:137.71px">Chiapas</div><div class="bb" style="top:143.11px;width:206.1px;background:#d19000"></div><div class="bv" style="top:137.71px;left:1518.8px">18.3</div>
<div class="bl" style="top:158.79px">Michoacán de Ocampo</div><div class="bb" style="top:164.19px;width:198.2px;background:#d19000"></div><div class="bv" style="top:158.79px;left:1510.9px">17.6</div>
<div class="bl" style="top:179.87px">San Luis Potosí</div><div class="bb" style="top:185.27px;width:161.2px;background:#d19000"></div><div class="bv" style="top:179.87px;left:1473.9px">14.3</div>
<div class="bl" style="top:200.95px">Tlaxcala</div><div class="bb" style="top:206.35px;width:157.2px;background:#d19000"></div><div class="bv" style="top:200.95px;left:1469.9px">13.9</div>
<div class="bl" style="top:222.03px">Colima</div><div class="bb" style="top:227.43px;width:156.0px;background:#d19000"></div><div class="bv" style="top:222.03px;left:1468.7px">13.9</div>
<div class="bl" style="top:243.11px">Nayarit</div><div class="bb" style="top:248.51px;width:155.0px;background:#d19000"></div><div class="bv" style="top:243.11px;left:1467.7px">13.7</div>
<div class="bl" style="top:264.19px">Veracruz de Ignacio de la Llave</div><div class="bb" style="top:269.59px;width:147.1px;background:#d19000"></div><div class="bv" style="top:264.19px;left:1459.8px">13.1</div>
<div class="bl" style="top:285.27px">Guanajuato</div><div class="bb" style="top:290.67px;width:146.1px;background:#d19000"></div><div class="bv" style="top:285.27px;left:1458.8px">13.0</div>
<div class="bl" style="top:306.35px">Aguascalientes</div><div class="bb" style="top:311.75px;width:140.1px;background:#d19000"></div><div class="bv" style="top:306.35px;left:1452.8px">12.4</div>
<div class="bl" style="top:327.43px">Zacatecas</div><div class="bb" style="top:332.83px;width:140.1px;background:#d19000"></div><div class="bv" style="top:327.43px;left:1452.8px">12.4</div>
<div class="bl" style="top:348.51px">Tabasco</div><div class="bb" style="top:353.91px;width:139.1px;background:#d19000"></div><div class="bv" style="top:348.51px;left:1451.8px">12.4</div>
<div class="bl" style="top:369.59px">Yucatán</div><div class="bb" style="top:374.99px;width:134.2px;background:#d19000"></div><div class="bv" style="top:369.59px;left:1446.9px">11.9</div>
<div class="bl" style="top:390.67px">Nacional</div><div class="bb" style="top:396.07px;width:129.2px;background:#c00000"></div><div class="bv" style="top:390.67px;left:1441.9px">11.5</div>
<div class="bl" style="top:411.75px">Campeche</div><div class="bb" style="top:417.15px;width:124.2px;background:#d19000"></div><div class="bv" style="top:411.75px;left:1436.9px">11.1</div>
<div class="bl" style="top:432.83px">Durango</div><div class="bb" style="top:438.23px;width:123.2px;background:#d19000"></div><div class="bv" style="top:432.83px;left:1435.9px">11.0</div>
<div class="bl" style="top:453.91px">Morelos</div><div class="bb" style="top:459.31px;width:122.2px;background:#d19000"></div><div class="bv" style="top:453.91px;left:1434.9px">10.9</div>
<div class="bl" style="top:474.99px">Quintana Roo</div><div class="bb" style="top:480.39px;width:115.1px;background:#d19000"></div><div class="bv" style="top:474.99px;left:1427.8px">10.2</div>
<div class="bl" style="top:496.07px">Jalisco</div><div class="bb" style="top:501.47px;width:112.1px;background:#d19000"></div><div class="bv" style="top:496.07px;left:1424.8px">9.9</div>
<div class="bl" style="top:517.15px">Sonora</div><div class="bb" style="top:522.55px;width:111.1px;background:#d19000"></div><div class="bv" style="top:517.15px;left:1423.8px">9.9</div>
<div class="bl" style="top:538.23px">México</div><div class="bb" style="top:543.63px;width:110.1px;background:#d19000"></div><div class="bv" style="top:538.23px;left:1422.8px">9.8</div>
<div class="bl" style="top:559.31px">Sinaloa</div><div class="bb" style="top:564.71px;width:109.1px;background:#d19000"></div><div class="bv" style="top:559.31px;left:1421.8px">9.7</div>
<div class="bl" style="top:580.39px">Chihuahua</div><div class="bb" style="top:585.79px;width:107.1px;background:#d19000"></div><div class="bv" style="top:580.39px;left:1419.8px">9.5</div>
<div class="bl" style="top:601.47px">Guerrero</div><div class="bb" style="top:606.87px;width:101.1px;background:#d19000"></div><div class="bv" style="top:601.47px;left:1413.8px">9.0</div>
<div class="bl" style="top:622.55px">Hidalgo</div><div class="bb" style="top:627.95px;width:95.1px;background:#d19000"></div><div class="bv" style="top:622.55px;left:1407.8px">8.4</div>
<div class="bl" style="top:643.63px">Baja California Sur</div><div class="bb" style="top:649.03px;width:91.1px;background:#d19000"></div><div class="bv" style="top:643.63px;left:1403.8px">8.1</div>
<div class="bl" style="top:664.71px">Querétaro</div><div class="bb" style="top:670.11px;width:87.2px;background:#d19000"></div><div class="bv" style="top:664.71px;left:1399.9px">7.8</div>
<div class="bl" style="top:685.79px">Coahuila de Zaragoza</div><div class="bb" style="top:691.19px;width:78.2px;background:#d19000"></div><div class="bv" style="top:685.79px;left:1390.9px">7.0</div>
<div class="bl" style="top:706.87px">Tamaulipas</div><div class="bb" style="top:712.27px;width:77.2px;background:#d19000"></div><div class="bv" style="top:706.87px;left:1389.9px">6.9</div>
<div class="bl" style="top:727.95px">Nuevo León</div><div class="bb" style="top:733.35px;width:71.1px;background:#d19000"></div><div class="bv" style="top:727.95px;left:1383.8px">6.3</div>
<div class="bl" style="top:749.03px">Ciudad de México</div><div class="bb" style="top:754.43px;width:61.1px;background:#d19000"></div><div class="bv" style="top:749.03px;left:1373.8px">5.4</div>
<div class="bl" style="top:770.11px">Baja California</div><div class="bb" style="top:775.51px;width:59.1px;background:#d19000"></div><div class="bv" style="top:770.11px;left:1371.8px">5.3</div>
<div id="leftbar"></div><div id="foot1"></div><div id="foot2"></div>
</body></html>
